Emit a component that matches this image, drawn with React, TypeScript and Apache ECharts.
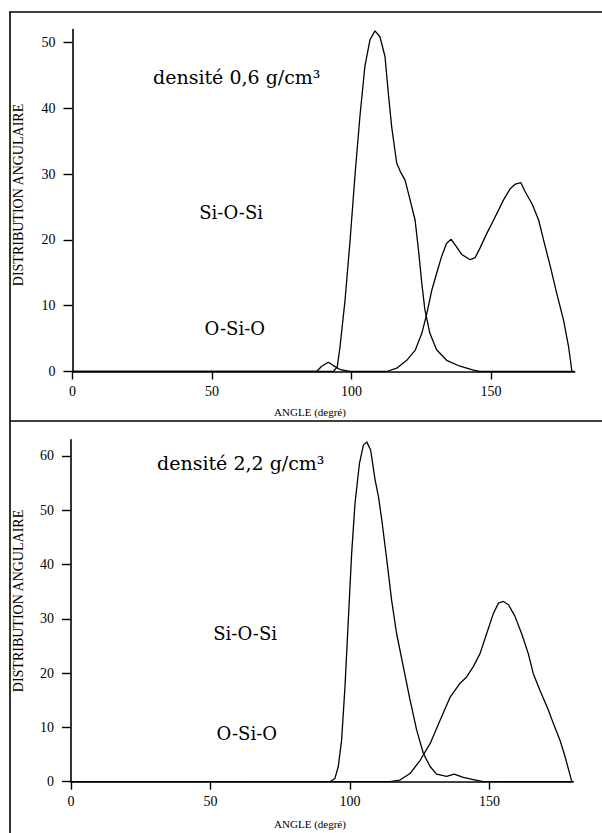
import React, { useEffect, useRef } from "react";
import * as echarts from "echarts";

// ---- data (angle in degrees, angular distribution) ----
const xTicks = [0, 50, 100, 150];
const yTicksTop = [0, 10, 20, 30, 40, 50];
const yTicksBottom = [0, 10, 20, 30, 40, 50, 60];

const topOSiOAngle = [0, 93.5, 94.9, 95.9, 97.7, 99.5, 101.3, 103.0, 104.8, 106.6, 108.4, 110.2, 112.0, 113.2, 114.4, 116.2, 117.5, 119.2, 121.0, 122.8, 124.0, 125.2, 126.3, 128.1, 130.5, 134.1, 138.9, 143.7, 146, 180];
const topOSiOValue = [0, 0, 0.7, 3.8, 10.9, 20.0, 30.1, 38.7, 46.4, 50.4, 51.8, 50.9, 47.9, 42.3, 37.2, 31.7, 30.4, 29.1, 26.1, 23.0, 18.5, 13.4, 9.4, 5.8, 3.3, 1.7, 0.8, 0.2, 0, 0];

const topSiOSiAngle = [0, 87.5, 89.3, 91.7, 93.5, 95.9, 99.5, 112.6, 116.2, 119.8, 122.8, 125.2, 127.0, 128.8, 130.5, 132.3, 134.1, 135.7, 137.1, 139.5, 142.5, 144.3, 146.1, 148.5, 150.9, 154.5, 156.9, 158.7, 160.7, 162.3, 164.7, 167.1, 168.9, 171.3, 173.6, 176.0, 177.8, 179.0];
const topSiOSiValue = [0, 0, 0.8, 1.4, 0.9, 0.3, 0, 0, 0.5, 1.7, 3.2, 5.8, 8.8, 12.4, 14.9, 17.5, 19.5, 20.1, 19.3, 17.8, 17.0, 17.3, 18.8, 21.0, 23.0, 26.1, 27.8, 28.5, 28.7, 27.3, 25.5, 23.0, 19.9, 15.9, 11.8, 7.8, 3.8, 0];

const botOSiOAngle = [0, 92.8, 94.6, 95.8, 97.0, 98.2, 99.4, 100.6, 101.8, 103.4, 104.8, 106.0, 107.4, 109.0, 110.2, 111.4, 113.2, 114.9, 116.7, 119.1, 121.5, 123.9, 126.3, 128.7, 131.0, 134.6, 137.3, 140.6, 144.2, 147.8, 180];
const botOSiOValue = [0, 0, 0.6, 2.8, 7.7, 17.5, 29.8, 42.1, 51.3, 58.7, 62.0, 62.6, 61.1, 55.6, 52.5, 48.2, 40.8, 33.5, 27.3, 21.2, 15.1, 9.5, 5.2, 2.8, 1.4, 1.0, 1.4, 0.8, 0.4, 0, 0];

const botSiOSiAngle = [0, 114.3, 117.9, 121.5, 125.1, 128.7, 132.3, 135.9, 139.4, 141.8, 144.2, 146.6, 149.0, 151.4, 153.2, 155.0, 156.8, 159.1, 161.5, 163.9, 165.7, 168.1, 171.1, 172.9, 175.3, 177.1, 179.5];
const botSiOSiValue = [0, 0, 0.3, 1.5, 3.9, 7.0, 11.3, 15.6, 18.1, 19.3, 21.2, 23.6, 27.3, 31.0, 32.9, 33.2, 32.6, 30.5, 27.3, 23.6, 19.9, 16.8, 13.2, 10.7, 7.6, 4.6, 0];

const zip = (a: number[], b: number[]) => a.map((v, i) => [v, b[i]]);

const SERIF = "'DejaVu Serif', serif";
const TICKFONT = "'Liberation Serif', serif";

export default function App() {
  const ref = useRef<HTMLDivElement>(null);
  useEffect(() => {
    if (!ref.current) return;
    const chart = echarts.init(ref.current, null, { renderer: "svg" });

    const xAxisBase = (gridIndex: number) => ({
      type: "value",
      gridIndex,
      min: 0,
      max: 180,
      interval: 50,
      axisLine: { show: true, lineStyle: { color: "#000", width: 1.6 } },
      axisTick: { show: true, length: 8, customValues: xTicks, lineStyle: { color: "#000", width: 1.4 } },
      axisLabel: { customValues: xTicks, margin: 13, color: "#000", fontSize: 14, fontFamily: TICKFONT },
      splitLine: { show: false },
    });
    const yAxisBase = (gridIndex: number, max: number, ticks: number[]) => ({
      type: "value",
      gridIndex,
      min: 0,
      max,
      interval: 10,
      axisLine: { show: true, lineStyle: { color: "#000", width: 1.6 } },
      axisTick: { show: true, length: 9, customValues: ticks, lineStyle: { color: "#000", width: 1.4 } },
      axisLabel: { customValues: ticks, margin: 17, color: "#000", fontSize: 14, fontFamily: TICKFONT },
      splitLine: { show: false },
    });
    const lineSeries = (name: string, idx: number, data: number[][]) => ({
      name,
      type: "line",
      xAxisIndex: idx,
      yAxisIndex: idx,
      data,
      showSymbol: false,
      symbol: "none",
      smooth: false,
      lineStyle: { color: "#000", width: 1.3 },
      z: 3,
    });

    const txt = (text: string, x: number, y: number, size: number, align = "left", family = SERIF, rotation = 0) => ({
      type: "text",
      x,
      y,
      rotation,
      style: {
        text,
        font: `${size}px ${family}`,
        fill: "#000",
        align,
        textAlign: align,
        verticalAlign: "middle",
        textVerticalAlign: "middle",
      },
      z: 10,
    });
    const ln = (x1: number, y1: number, x2: number, y2: number) => ({
      type: "line",
      shape: { x1, y1, x2, y2 },
      style: { stroke: "#000", lineWidth: 1.6 },
      z: 10,
    });

    chart.setOption({
      animation: false,
      backgroundColor: "#fff",
      grid: [
        { left: 72.5, top: 29.5, width: 502.2, height: 342 },
        { left: 71, top: 439.7, width: 502.2, height: 342 },
      ],
      xAxis: [xAxisBase(0), xAxisBase(1)],
      yAxis: [yAxisBase(0, 52, yTicksTop), yAxisBase(1, 63, yTicksBottom)],
      series: [
        lineSeries("O-Si-O", 0, zip(topOSiOAngle, topOSiOValue)),
        lineSeries("Si-O-Si", 0, zip(topSiOSiAngle, topSiOSiValue)),
        lineSeries("O-Si-O", 1, zip(botOSiOAngle, botOSiOValue)),
        lineSeries("Si-O-Si", 1, zip(botSiOSiAngle, botSiOSiValue)),
      ],
      graphic: [
        ln(9, 12, 602, 12),
        ln(10, 12, 10, 833),
        ln(10, 421, 602, 421),
        txt("densité 0,6 g/cm³", 153, 77, 19),
        txt("Si-O-Si", 263, 212, 18, "right"),
        txt("O-Si-O", 265, 328, 18, "right"),
        txt("densité 2,2 g/cm³", 157, 463, 19),
        txt("Si-O-Si", 277, 633, 18, "right"),
        txt("O-Si-O", 277, 733, 18, "right"),
        txt("ANGLE (degré)", 310, 412, 11, "center", TICKFONT),
        txt("ANGLE (degré)", 310, 824, 11, "center", TICKFONT),
        txt("DISTRIBUTION ANGULAIRE", 18.5, 195, 14, "center", TICKFONT, Math.PI / 2),
        txt("DISTRIBUTION ANGULAIRE", 18, 601, 14, "center", TICKFONT, Math.PI / 2),
      ],
    });
    return () => chart.dispose();
  }, []);
  return (
    <div
      ref={ref}
      style={{ position: "absolute", left: 0, top: 0, width: 602, height: 833, background: "#fff" }}
    />
  );
}
